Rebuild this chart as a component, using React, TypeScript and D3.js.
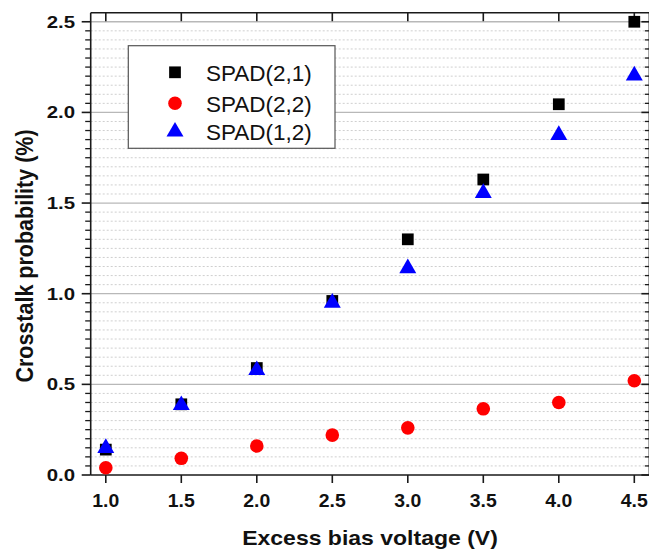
import React from "react";
import * as d3 from "d3";

const voltages = [1.0, 1.5, 2.0, 2.5, 3.0, 3.5, 4.0, 4.5];
const spad21 = [0.14, 0.39, 0.59, 0.96, 1.30, 1.63, 2.045, 2.50];
const spad22 = [0.04, 0.092, 0.16, 0.22, 0.26, 0.365, 0.40, 0.52];
const spad12 = [0.148, 0.385, 0.578, 0.95, 1.14, 1.555, 1.875, 2.203];
const seriesNames = ["SPAD(2,1)", "SPAD(2,2)", "SPAD(1,2)"];
const xTickLabels = ["1.0", "1.5", "2.0", "2.5", "3.0", "3.5", "4.0", "4.5"];
const yTickLabels = ["0.0", "0.5", "1.0", "1.5", "2.0", "2.5"];
const xTitle = "Excess bias voltage (V)";
const yTitle = "Crosstalk probability (%)";

const W = 649;
const H = 550;
const left = 90.7;
const right = 649.4;
const top = 12.7;
const bottom = 475;

const FONT = "'Liberation Sans', Arial, Helvetica, sans-serif";

export default function App() {
  const x = d3.scaleLinear().domain([0.9, 4.6]).range([left, right]);
  const y = d3.scaleLinear().domain([0, 2.55]).range([bottom, top]);

  const majorY = yTickLabels.map((t) => +t);
  const minorY = d3.range(1, 51).map((i) => i * 0.05).filter((v) => Math.abs(v * 2 - Math.round(v * 2)) > 1e-6);
  const xTicks = xTickLabels.map((t) => +t);

  const sq = d3.symbol().type(d3.symbolSquare).size(138)();
  const circ = d3.symbol().type(d3.symbolCircle).size(145)();
  const tri = d3.symbol().type(d3.symbolTriangle).size(125)();

  const axisColor = "#1a1a1a";

  return (
    <svg width={W} height={H} style={{ position: "absolute", left: 0, top: 0, background: "#fff" }}>
      <rect x={0} y={0} width={W} height={H} fill="#fff" />
      {minorY.map((v, i) => (
        <line key={"mg" + i} x1={left} x2={right} y1={y(v)} y2={y(v)} stroke="#cfcfcf" strokeWidth={1} strokeDasharray="2,2" />
      ))}
      {majorY.filter((v) => v > 0).map((v, i) => (
        <line key={"Mg" + i} x1={left} x2={right} y1={y(v)} y2={y(v)} stroke="#b8b8b8" strokeWidth={1.3} />
      ))}

      <line x1={left} x2={right} y1={bottom} y2={bottom} stroke={axisColor} strokeWidth={1.6} />
      <line x1={left} x2={right} y1={top} y2={top} stroke={axisColor} strokeWidth={1.6} />
      <line x1={left} x2={left} y1={top} y2={bottom} stroke={axisColor} strokeWidth={1.6} />
      <line x1={right} x2={right} y1={top} y2={bottom} stroke={axisColor} strokeWidth={1.6} />

      {majorY.map((v, i) => (
        <line key={"lt" + i} x1={left - 9} x2={left} y1={y(v)} y2={y(v)} stroke={axisColor} strokeWidth={1.6} />
      ))}
      {minorY.map((v, i) => (
        <line key={"lmt" + i} x1={left - 5.5} x2={left} y1={y(v)} y2={y(v)} stroke={axisColor} strokeWidth={1.3} />
      ))}
      {majorY.map((v, i) => (
        <line key={"rt" + i} x1={right - 8} x2={right} y1={y(v)} y2={y(v)} stroke={axisColor} strokeWidth={1.6} />
      ))}
      {minorY.map((v, i) => (
        <line key={"rmt" + i} x1={right - 4.5} x2={right} y1={y(v)} y2={y(v)} stroke={axisColor} strokeWidth={1.3} />
      ))}
      {xTicks.map((v, i) => (
        <g key={"xt" + i}>
          <line x1={x(v)} x2={x(v)} y1={bottom} y2={bottom + 8} stroke={axisColor} strokeWidth={1.6} />
          <line x1={x(v)} x2={x(v)} y1={top} y2={top + 8.5} stroke={axisColor} strokeWidth={1.6} />
        </g>
      ))}

      {yTickLabels.map((t, i) => (
        <text key={"yl" + i} transform={`translate(${75},${y(+t) + 6}) scale(1.2,1)`} textAnchor="end"
          fontFamily={FONT} fontWeight="bold" fontSize={17} fill="#111">{t}</text>
      ))}
      {xTickLabels.map((t, i) => (
        <text key={"xl" + i} transform={`translate(${x(+t)},${507}) scale(1.05,1)`} textAnchor="middle"
          fontFamily={FONT} fontWeight="bold" fontSize={18.5} fill="#111">{t}</text>
      ))}

      <text transform={`translate(370,545) scale(1.18,1)`} textAnchor="middle" fontFamily={FONT} fontWeight="bold" fontSize={19.5} fill="#111">{xTitle}</text>
      <text transform={`translate(33,256) scale(1.1,1) rotate(-90)`} textAnchor="middle" fontFamily={FONT} fontWeight="bold" fontSize={21.5} fill="#111">{yTitle}</text>

      {voltages.map((v, i) => (
        <path key={"s" + i} d={sq} transform={`translate(${x(v)},${y(spad21[i])})`} fill="#000" />
      ))}
      {voltages.map((v, i) => (
        <path key={"c" + i} d={circ} transform={`translate(${x(v)},${y(spad22[i])})`} fill="#ff0000" />
      ))}
      {voltages.map((v, i) => (
        <path key={"t" + i} d={tri} transform={`translate(${x(v)},${y(spad12[i])})`} fill="#0000ff" />
      ))}

      <rect x={128.3} y={45.7} width={206.7} height={102.6} fill="#fff" stroke="#555" strokeWidth={1.2} />
      {seriesNames.map((name, i) => {
        const ry = [72.3, 103.3, 131.7][i];
        const sym = [sq, circ, tri][i];
        const col = ["#000", "#ff0000", "#0000ff"][i];
        return (
          <g key={"lg" + i}>
            <path d={sym} transform={`translate(175,${ry})`} fill={col} />
            <text x={206} y={ry + 8.3} fontFamily={FONT} fontSize={22.5} fill="#111">{name}</text>
          </g>
        );
      })}
    </svg>
  );
}
